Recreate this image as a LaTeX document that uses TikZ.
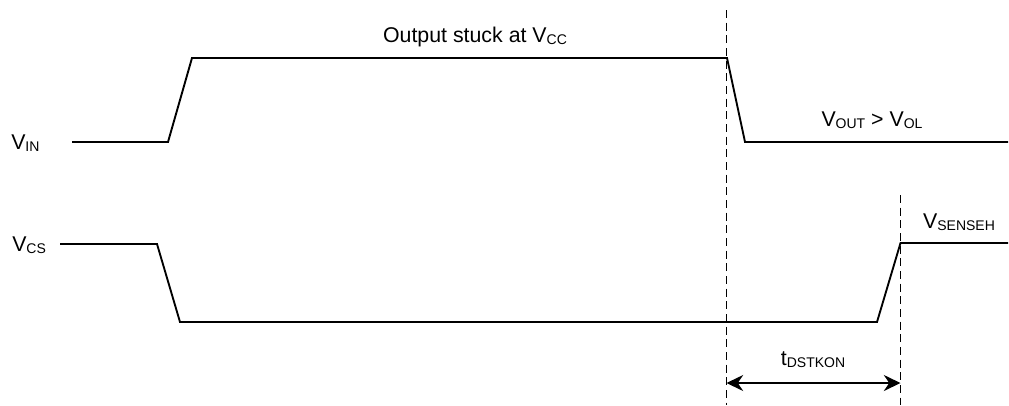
\documentclass[tikz,border=0pt]{standalone}
\usepackage{fontspec}
\setmainfont{Liberation Sans}
\usetikzlibrary{arrows.meta, positioning}
\newcommand{\sig}[2]{#1\raisebox{-2pt}{\fontsize{10.5}{10.5}\selectfont #2}}

\begin{document}
\begin{tikzpicture}[
    x=0.75pt, y=-0.75pt,
    wave/.style={line width=1.4pt, line join=miter},
    marker/.style={line width=1.4pt, dash pattern=on 6pt off 3.5pt},
    arrow/.style={{Stealth[length=12.5pt,width=12pt]}-{Stealth[length=12.5pt,width=12pt]}, line width=1.4pt},
    lbl/.style={font=\fontsize{16}{16}\selectfont, inner sep=0pt}
]
\useasboundingbox (0,0) rectangle (1009,405);

% Markers
\coordinate (m1top) at (726.5, 10);
\coordinate (m1bot) at (726.5, 405);
\coordinate (m2top) at (900.5, 195);
\coordinate (m2bot) at (900.5, 405);
\draw[marker] (m1top) -- (m1bot);
\draw[marker] (m2top) -- (m2bot);

% Signal names
\node[lbl, anchor=base west] (vin) at (11, 149) {\sig{V}{IN}};
\node[lbl, anchor=base west] (vcs) at (12, 251) {\sig{V}{CS}};

% Waveforms
\draw[wave] (72, 142) -- (168, 142) -- (192, 58) -- (727, 58) -- (745, 142) -- (1008, 142);
\draw[wave] (60, 244) -- (157, 244) -- (180, 322) -- (877, 322) -- (900.5, 243) -- (1008, 243);

% Annotations
\node[lbl, anchor=base] (stuck) at (475, 42) {Output stuck at \sig{V}{CC}};
\node[lbl, anchor=base] (vout) at (872, 126) {\sig{V}{OUT} > \sig{V}{OL}};
\node[lbl, anchor=base] (vsense) at (959, 228) {\sig{V}{SENSEH}};

% Delay
\coordinate (d1) at (726.5, 383);
\coordinate (d2) at (900.5, 383);
\draw[arrow] (d1) -- (d2);
\node[lbl, anchor=base] (tdst) at (813, 365) {\sig{t}{DSTKON}};

\end{tikzpicture}
\end{document}
